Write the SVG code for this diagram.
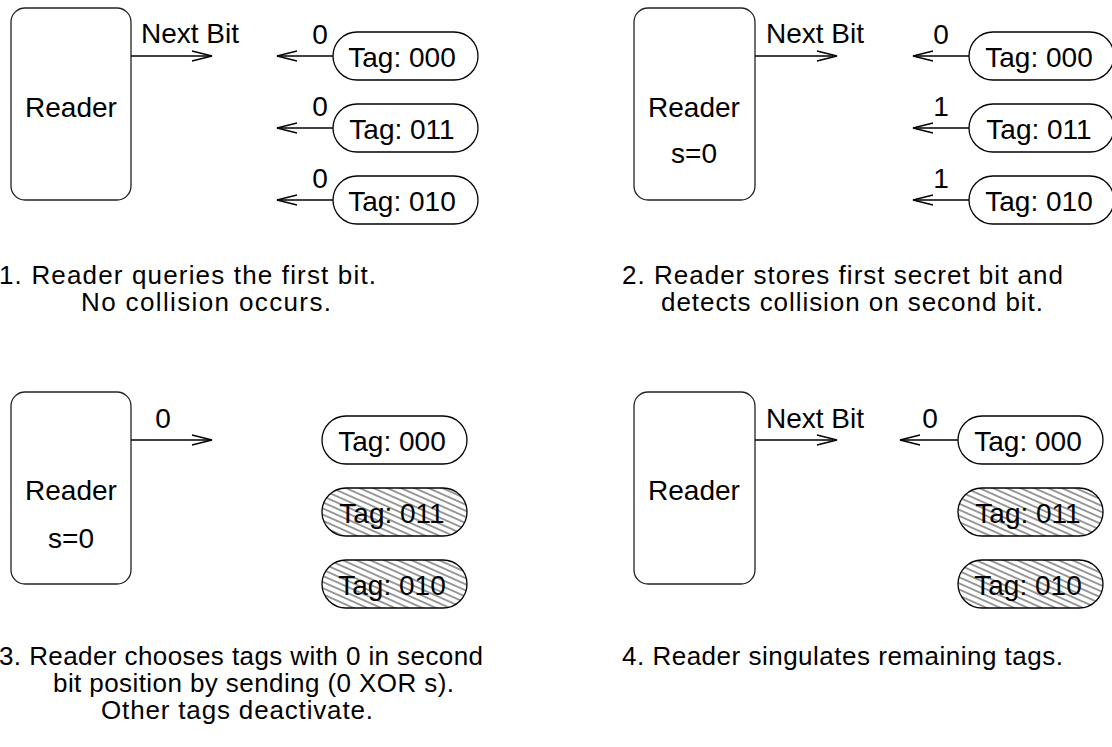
<svg xmlns="http://www.w3.org/2000/svg" width="1112" height="747" viewBox="0 0 1112 747">
<style>
text{font-family:"Liberation Sans",Arial,sans-serif;font-size:28px;fill:#000}
.cap{font-size:26px}
.box{fill:#fff;stroke:#222;stroke-width:1.3}
.tag{fill:#fff;stroke:#000;stroke-width:1.3}
.hat{fill:url(#hatch);stroke:none}
.c{text-anchor:middle}
.ln{stroke:#000;stroke-width:1.3;fill:none;marker-end:url(#arr)}
</style>
<defs>
<marker id="arr" viewBox="-22 -7 24 14" refX="0" refY="0" markerWidth="24" markerHeight="14" markerUnits="userSpaceOnUse" orient="auto">
<path d="M-20,-5 L0,0 L-20,5" fill="none" stroke="#000" stroke-width="1.3"/>
</marker>
<pattern id="hatch" patternUnits="userSpaceOnUse" width="20" height="5.6" patternTransform="rotate(24)">
<line x1="0" y1="2.8" x2="20" y2="2.8" stroke="#000" stroke-width="0.8"/>
</pattern>
</defs>
<rect width="1112" height="747" fill="#fff"/>

<!-- Panel 1 -->
<g id="reader1"><rect class="box" x="11" y="8" width="120" height="192" rx="14"/><text class="c" x="71" y="117">Reader</text></g>
<g id="tag1a"><rect class="tag" x="333" y="32" width="145" height="48" rx="24"/><text class="c" x="402" y="67">Tag: 000</text></g>
<g id="tag1b"><rect class="tag" x="333" y="104" width="145" height="48" rx="24"/><text class="c" x="402" y="139">Tag: 011</text></g>
<g id="tag1c"><rect class="tag" x="333" y="176" width="145" height="48" rx="24"/><text class="c" x="402" y="211">Tag: 010</text></g>

<!-- Panel 2 -->
<g id="reader2"><rect class="box" x="634" y="8" width="121" height="192" rx="14"/><text class="c" x="694" y="117">Reader</text><text class="c" x="694" y="163">s=0</text></g>
<g id="tag2a"><rect class="tag" x="969" y="32" width="145" height="48" rx="24"/><text class="c" x="1039" y="67">Tag: 000</text></g>
<g id="tag2b"><rect class="tag" x="969" y="104" width="145" height="48" rx="24"/><text class="c" x="1039" y="139">Tag: 011</text></g>
<g id="tag2c"><rect class="tag" x="969" y="176" width="145" height="48" rx="24"/><text class="c" x="1039" y="211">Tag: 010</text></g>

<!-- Panel 3 -->
<g id="reader3"><rect class="box" x="11" y="392" width="120" height="192" rx="14"/><text class="c" x="71" y="500">Reader</text><text class="c" x="71" y="548">s=0</text></g>
<g id="tag3a"><rect class="tag" x="322" y="416" width="145" height="48" rx="24"/><text class="c" x="392" y="451">Tag: 000</text></g>
<g id="tag3b"><rect class="tag" x="322" y="488" width="145" height="48" rx="24"/><text class="c" x="392" y="523">Tag: 011</text><rect class="hat" x="322" y="488" width="145" height="48" rx="24"/></g>
<g id="tag3c"><rect class="tag" x="322" y="560" width="145" height="48" rx="24"/><text class="c" x="392" y="595">Tag: 010</text><rect class="hat" x="322" y="560" width="145" height="48" rx="24"/></g>

<!-- Panel 4 -->
<g id="reader4"><rect class="box" x="634" y="392" width="121" height="192" rx="14"/><text class="c" x="694" y="500">Reader</text></g>
<g id="tag4a"><rect class="tag" x="958" y="416" width="145" height="48" rx="24"/><text class="c" x="1028" y="451">Tag: 000</text></g>
<g id="tag4b"><rect class="tag" x="958" y="488" width="145" height="48" rx="24"/><text class="c" x="1028" y="523">Tag: 011</text><rect class="hat" x="958" y="488" width="145" height="48" rx="24"/></g>
<g id="tag4c"><rect class="tag" x="958" y="560" width="145" height="48" rx="24"/><text class="c" x="1028" y="595">Tag: 010</text><rect class="hat" x="958" y="560" width="145" height="48" rx="24"/></g>

<g id="connectors">
<line class="ln" x1="131" y1="56" x2="212" y2="56"/>
<line class="ln" x1="333" y1="56" x2="277" y2="56"/>
<line class="ln" x1="333" y1="128" x2="277" y2="128"/>
<line class="ln" x1="333" y1="200" x2="277" y2="200"/>
<line class="ln" x1="755" y1="56" x2="837" y2="56"/>
<line class="ln" x1="969" y1="56" x2="913" y2="56"/>
<line class="ln" x1="969" y1="128" x2="913" y2="128"/>
<line class="ln" x1="969" y1="200" x2="913" y2="200"/>
<line class="ln" x1="131" y1="440" x2="212" y2="440"/>
<line class="ln" x1="755" y1="440" x2="837" y2="440"/>
<line class="ln" x1="958" y1="440" x2="900" y2="440"/>
<text x="141" y="43">Next Bit</text>
<text class="c" x="320" y="44">0</text>
<text class="c" x="320" y="116">0</text>
<text class="c" x="320" y="188">0</text>
<text x="766" y="43">Next Bit</text>
<text class="c" x="941" y="44">0</text>
<text class="c" x="941" y="116">1</text>
<text class="c" x="941" y="188">1</text>
<text class="c" x="163" y="428">0</text>
<text x="766" y="428">Next Bit</text>
<text class="c" x="930" y="428">0</text>
</g>

<g id="captions">
<text class="cap" x="-1" y="284" textLength="377">1. Reader queries the first bit.</text>
<text class="cap" x="81" y="311" textLength="250">No collision occurs.</text>
<text class="cap" x="622" y="284" textLength="441">2. Reader stores first secret bit and</text>
<text class="cap" x="661" y="311" textLength="382">detects collision on second bit.</text>
<text class="cap" x="-1" y="665" textLength="484">3. Reader chooses tags with 0 in second</text>
<text class="cap" x="53" y="692" textLength="401">bit position by sending (0 XOR s).</text>
<text class="cap" x="101" y="719" textLength="272">Other tags deactivate.</text>
<text class="cap" x="622" y="665" textLength="441">4. Reader singulates remaining tags.</text>
</g>
</svg>
